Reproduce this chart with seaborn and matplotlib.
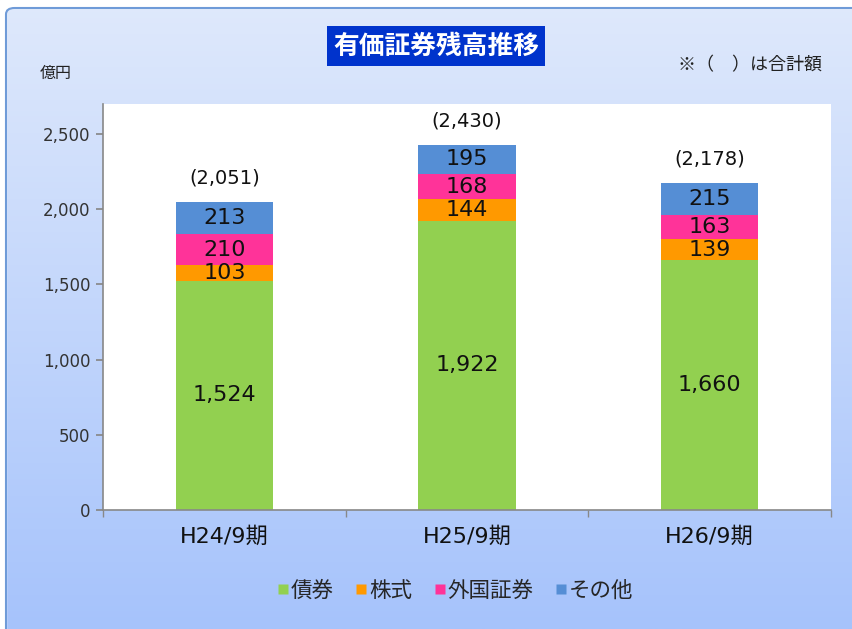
import numpy as np
import pandas as pd
import matplotlib
matplotlib.use("Agg")
import matplotlib.pyplot as plt
import seaborn as sns
from matplotlib.patches import FancyBboxPatch, Rectangle
from matplotlib.lines import Line2D

categories = ["H24/9期", "H25/9期", "H26/9期"]
series_names = ["債券", "株式", "外国証券", "その他"]
bonds = [1524, 1922, 1660]
stocks = [103, 144, 139]
foreign = [210, 168, 163]
others = [213, 195, 215]
totals = [2051, 2430, 2178]
yticks = [0, 500, 1000, 1500, 2000, 2500]
colors = ["#92d050", "#ff9900", "#ff3399", "#558ed5"]

sns.set_theme(style="white")
plt.rcParams['font.family'] = ['Noto Sans CJK JP', 'DejaVu Sans']
NUM = ['DejaVu Sans', 'Noto Sans CJK JP']

W, H = 852, 629
fig = plt.figure(figsize=(W / 100, H / 100), dpi=100)
fig.patch.set_facecolor("white")

# gradient background
bg = fig.add_axes([0, 0, 1, 1], zorder=-10)
grad = np.linspace(0, 1, 256).reshape(-1, 1)
top = np.array([0xdf, 0xe9, 0xfc]) / 255
bot = np.array([0xa6, 0xc3, 0xfb]) / 255
img = top[None, None, :] * (1 - grad[:, :, None]) + bot[None, None, :] * grad[:, :, None]
bg.imshow(img, aspect="auto", extent=[0, 1, 0, 1], origin="upper")
bg.set_xlim(0, 1)
bg.set_ylim(0, 1)
bg.axis("off")
bg.add_patch(Rectangle((0, 1 - 8 / H), 1, 8 / H, color="white", zorder=2))
bg.add_patch(Rectangle((0, 0), 6 / W, 1, color="white", zorder=2))
bg.add_patch(FancyBboxPatch((6 / W, -0.05), 1.1, 1.05 - 8 / H,
                            boxstyle="round,pad=0,rounding_size=0.01",
                            fill=False, edgecolor="#6f9bd8", linewidth=1.5, zorder=3))

ax = fig.add_axes([103 / W, 1 - 510 / H, (831 - 103) / W, (510 - 104) / H])
ax.set_facecolor("white")

df = pd.DataFrame({"cat": categories, "債券": bonds, "株式": stocks,
                   "外国証券": foreign, "その他": others})
bottom = np.zeros(len(categories))
for name, col in zip(series_names, colors):
    vals = df[name].to_numpy()
    sns.barplot(data=df, x="cat", y=name, color=col, width=0.4, ax=ax,
                bottom=bottom, saturation=1, linewidth=0)
    for i, v in enumerate(vals):
        ax.text(i, bottom[i] + v / 2, f"{v:,}", ha="center", va="center",
                fontsize=16, color="#111111", family=NUM)
    bottom = bottom + vals

for i, t in enumerate(totals):
    ax.annotate(f"({t:,})", xy=(i, t), xytext=(0, 10), textcoords="offset points",
                ha="center", va="bottom", fontsize=14, color="#111111", family=NUM)

ax.set_ylim(0, 2700)
ax.set_xlim(-0.5, 2.5)
ax.set_yticks(yticks)
ax.set_yticklabels([f"{v:,}" for v in yticks], fontsize=12, color="#333333", family=NUM)
ax.set_xticks(range(len(categories)))
ax.set_xticklabels(categories, fontsize=16, color="#111111", family=NUM)
ax.set_xticks([-0.5, 0.5, 1.5, 2.5], minor=True)
ax.tick_params(axis="x", which="major", length=0, pad=12)
ax.tick_params(axis="x", which="minor", length=5, color="#888888", direction="out", bottom=True)
ax.tick_params(axis="y", length=5, color="#888888", direction="out", left=True, pad=4)
ax.set_xlabel("")
ax.set_ylabel("")
for s in ["top", "right"]:
    ax.spines[s].set_visible(False)
for s in ["left", "bottom"]:
    ax.spines[s].set_color("#888888")
    ax.spines[s].set_linewidth(1.2)

# title
fig.text(436 / W, 1 - 46 / H, "有価証券残高推移", ha="center", va="center",
         fontsize=18.5, fontweight="bold", color="white",
         bbox=dict(boxstyle="square,pad=0.25", facecolor="#0033cc", edgecolor="none"))
fig.text(40 / W, 1 - 73 / H, "億円", ha="left", va="center", fontsize=11.5, color="#222222")
fig.text(822 / W, 1 - 65 / H, "※（　）は合計額", ha="right", va="center", fontsize=13, color="#222222")

# legend
handles = [Line2D([], [], marker="s", linestyle="none", markersize=7.5,
                  markerfacecolor=c, markeredgecolor="none") for c in colors]
fig.legend(handles, series_names, loc="center", bbox_to_anchor=(455 / W, 1 - 591 / H),
           ncol=4, frameon=False, fontsize=15.5, handletextpad=0.05, columnspacing=1.0,
           handlelength=0.6)

fig.savefig("out.png", dpi=100, facecolor=fig.get_facecolor())
